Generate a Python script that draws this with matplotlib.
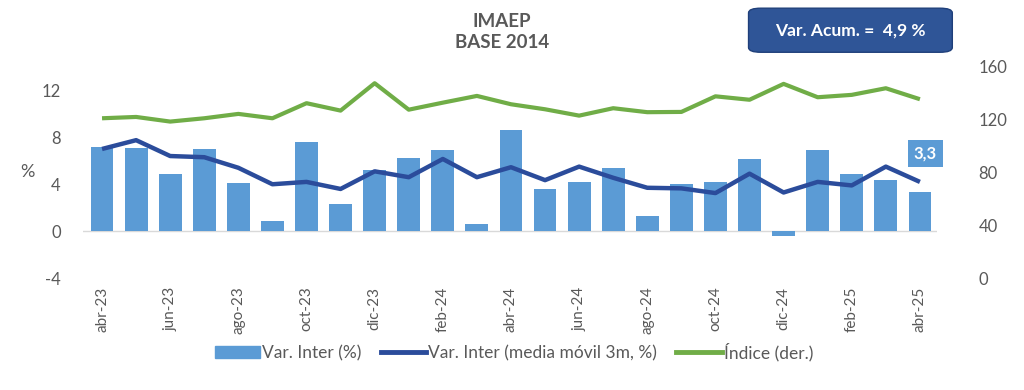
import matplotlib.pyplot as plt
from matplotlib.patches import FancyBboxPatch
from matplotlib.lines import Line2D
from matplotlib.patches import Patch

plt.rcParams['font.family'] = ['Lato', 'DejaVu Sans']
plt.rcParams['axes.unicode_minus'] = False

MONTHS = ["abr-23", "may-23", "jun-23", "jul-23", "ago-23", "sep-23", "oct-23", "nov-23",
          "dic-23", "ene-24", "feb-24", "mar-24", "abr-24", "may-24", "jun-24", "jul-24",
          "ago-24", "sep-24", "oct-24", "nov-24", "dic-24", "ene-25", "feb-25", "mar-25", "abr-25"]
VAR_INTER = [7.2, 7.1, 4.9, 7.0, 4.1, 0.9, 7.6, 2.3, 5.2, 6.2, 6.9, 0.6, 8.6, 3.6, 4.2, 5.4,
             1.3, 4.05, 4.15, 6.15, -0.4, 6.95, 4.9, 4.35, 3.3]
MEDIA_MOVIL = [7.0, 7.75, 6.4, 6.3, 5.4, 4.0, 4.2, 3.6, 5.1, 4.6, 6.15, 4.6, 5.45, 4.35, 5.5, 4.55,
               3.7, 3.65, 3.25, 4.9, 3.3, 4.2, 3.9, 5.5, 4.2]
INDICE = [121, 122, 118.5, 121, 124.3, 121, 132.4, 126.8, 147.5, 127.5, 132.8, 137.9, 131.6, 127.8,
          123, 128.6, 125.6, 125.8, 137.6, 135, 147, 136.9, 138.7, 143.7, 135.4]
VAR_ACUM = "4,9"

BAR_COLOR = "#5B9BD5"
LINE_COLOR = "#2B4C9B"
GREEN = "#70AD47"
TEXT_GRAY = "#595959"

fig = plt.figure(figsize=(10.24, 3.9), dpi=100)
ax = fig.add_axes([0.081, 0.2864, 0.834, 0.5426])
ax2 = ax.twinx()

x = list(range(len(MONTHS)))
ax.bar(x, VAR_INTER, width=0.67, color=BAR_COLOR, zorder=2)
ax.plot(x, MEDIA_MOVIL, color=LINE_COLOR, lw=3.2, zorder=3, solid_capstyle="butt")
ax2.plot(x, INDICE, color=GREEN, lw=3.0, solid_capstyle="butt")
ax.axhline(0, color="#D9D9D9", lw=1, zorder=1)

ax.set_zorder(ax2.get_zorder() + 1)
ax.patch.set_visible(False)

ax.set_xlim(-0.56, 24.5)
ax.set_ylim(-4, 14)
ax2.set_ylim(0, 160)
ax.set_yticks([-4, 0, 4, 8, 12])
ax2.set_yticks([0, 40, 80, 120, 160])
ax.set_xticks(x[::2])
ax.set_xticklabels(MONTHS[::2], rotation=90)

for a in (ax, ax2):
    for s in a.spines.values():
        s.set_visible(False)
    a.tick_params(colors=TEXT_GRAY, labelsize=12, length=0)
ax.tick_params(axis="x", labelsize=11, pad=6)
ax.tick_params(axis="y", pad=16)
ax2.tick_params(axis="y", pad=30)

ax.set_ylabel("%", rotation=0, color=TEXT_GRAY, fontsize=13, labelpad=10, va="center")

# etiqueta del ultimo dato
ax.annotate("3,3", xy=(x[-1], VAR_INTER[-1]), xytext=(4, 28), textcoords="offset points",
            ha="center", va="center", color="white", fontsize=12, fontweight="bold",
            bbox=dict(boxstyle="square,pad=0.35", fc=BAR_COLOR, ec="none"))

fig.text(0.49, 0.918, "IMAEP\nBASE 2014", ha="center", va="center", color=TEXT_GRAY,
         fontsize=13.5, fontweight="bold", linespacing=1.35)

box = FancyBboxPatch((0.731, 0.866), 0.199, 0.113, boxstyle="round,pad=0,rounding_size=0.012",
                     transform=fig.transFigure, fc="#2F5597", ec="#1F3F7A", lw=1)
fig.patches.append(box)
fig.text(0.83, 0.922, "Var. Acum. =  " + VAR_ACUM + " %", ha="center", va="center",
         color="white", fontsize=12.5, fontweight="bold")

handles = [Patch(color=BAR_COLOR), Line2D([], [], color=LINE_COLOR, lw=3.5),
           Line2D([], [], color=GREEN, lw=3.5)]
labels = ["Var. Inter (%)", "Var. Inter (media móvil 3m, %)", "Índice (der.)"]
fig.legend(handles, labels, loc="center", bbox_to_anchor=(0.502, 0.097), ncol=3, frameon=False,
           fontsize=12.5, labelcolor=TEXT_GRAY, handlelength=2.6, handletextpad=0.15,
           columnspacing=1.1)

fig.savefig("out.png", dpi=100)
